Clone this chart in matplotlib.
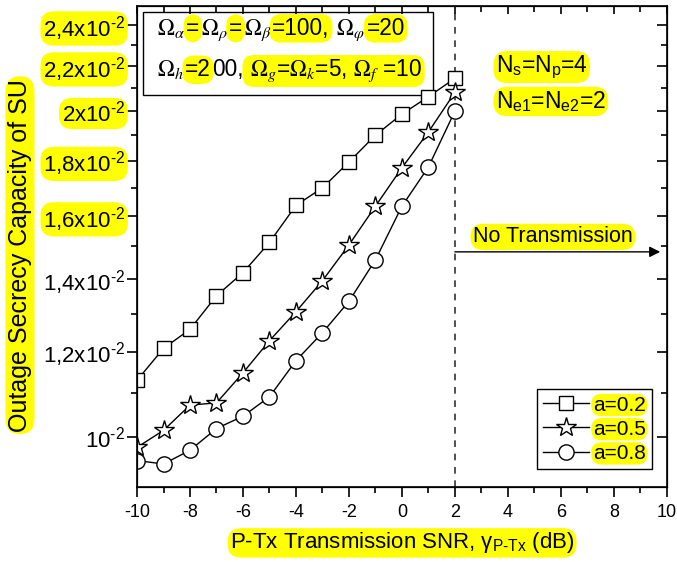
import matplotlib
matplotlib.use("Agg")
import matplotlib.pyplot as plt
from matplotlib.patches import Rectangle
from matplotlib.ticker import NullFormatter

plt.rcParams["font.family"] = ["Liberation Sans", "DejaVu Sans"]
plt.rcParams["mathtext.fontset"] = "custom"
plt.rcParams["mathtext.rm"] = "Liberation Sans"
plt.rcParams["mathtext.it"] = "Liberation Sans"
plt.rcParams["mathtext.bf"] = "Liberation Sans:bold"
plt.rcParams["axes.unicode_minus"] = False

YELLOW = "#ffff00"

# data
snr = [-10, -9, -8, -7, -6, -5, -4, -3, -2, -1, 0, 1, 2]
cap_a02 = [0.01129, 0.01208, 0.01258, 0.01351, 0.01419, 0.01513, 0.01637,
           0.01699, 0.01795, 0.01900, 0.01987, 0.02062, 0.02144]
cap_a05 = [0.00979, 0.01015, 0.01071, 0.01076, 0.01147, 0.01228, 0.01306,
           0.01395, 0.01505, 0.01634, 0.01773, 0.01913, 0.02081]
cap_a08 = [0.00952, 0.00945, 0.00973, 0.01019, 0.01046, 0.01090, 0.01177,
           0.01249, 0.01335, 0.01458, 0.01634, 0.01776, 0.02000]
series_labels = ["a=0.2", "a=0.5", "a=0.8"]

xticks_major = [-10, -8, -6, -4, -2, 0, 2, 4, 6, 8, 10]
xticks_minor = [-9, -7, -5, -3, -1, 1, 3, 5, 7, 9]
yticks_major = [0.010, 0.012, 0.014, 0.016, 0.018, 0.020, 0.022, 0.024]
ytick_labels = [r"10$^{\text{-2}}$", r"1,2x10$^{\text{-2}}$", r"1,4x10$^{\text{-2}}$",
                r"1,6x10$^{\text{-2}}$", r"1,8x10$^{\text{-2}}$", r"2x10$^{\text{-2}}$",
                r"2,2x10$^{\text{-2}}$", r"2,4x10$^{\text{-2}}$"]
yticks_minor = [0.011, 0.013, 0.015, 0.017, 0.019, 0.021, 0.023]
ytick_highlight_from = 0.016

limit_snr = 2
no_tx_level = 0.01483
no_tx_end = 9.75

fig = plt.figure(figsize=(6.77, 5.62), dpi=100)
ax = fig.add_axes([0.2024, 0.1335, 0.7826, 0.8558])


def hl_box(pad=0.12, rs=0.55):
    return dict(boxstyle="round,pad=%g,rounding_size=%g" % (pad, rs), fc=YELLOW, ec="none")


ax.plot(snr, cap_a02, color="black", lw=1, marker="s", ms=10, mfc="white",
        mec="black", mew=1, label=series_labels[0], zorder=4)
ax.plot(snr, cap_a05, color="black", lw=1, marker="*", ms=15, mfc="white",
        mec="black", mew=1, label=series_labels[1], zorder=4)
ax.plot(snr, cap_a08, color="black", lw=1, marker="o", ms=11, mfc="white",
        mec="black", mew=1, label=series_labels[2], zorder=4)

ax.set_yscale("log")
ax.set_xlim(-10, 10)
ax.set_ylim(0.009, 0.025)
ax.set_xticks(xticks_major, [str(v) for v in xticks_major])
ax.set_xticks(xticks_minor, minor=True)
ax.set_yticks(yticks_major, ytick_labels)
ax.set_yticks(yticks_minor, minor=True)
ax.yaxis.set_minor_formatter(NullFormatter())
ax.tick_params(which="major", direction="out", length=7, width=1.2)
ax.tick_params(which="minor", direction="out", length=4, width=1.2)
ax.tick_params(axis="x", labelsize=13, pad=5)
ax.tick_params(axis="y", labelsize=16, pad=1.5)
for sp in ax.spines.values():
    sp.set_linewidth(1.2)

# mirrored ticks on top / right, pointing in
axt = ax.twiny()
axt.set_xlim(ax.get_xlim())
axt.set_xticks(xticks_major)
axt.set_xticks(xticks_minor, minor=True)
axt.tick_params(which="both", direction="in", labeltop=False, width=1.2)
axt.tick_params(which="major", length=6)
axt.tick_params(which="minor", length=4)
axr = ax.twinx()
axr.set_yscale("log")
axr.set_ylim(ax.get_ylim())
axr.set_yticks(yticks_major)
axr.set_yticks(yticks_minor, minor=True)
axr.yaxis.set_major_formatter(NullFormatter())
axr.yaxis.set_minor_formatter(NullFormatter())
axr.tick_params(which="both", direction="in", labelright=False, width=1.2)
axr.tick_params(which="major", length=7)
axr.tick_params(which="minor", length=4)

for tick, v in zip(ax.yaxis.get_major_ticks(len(yticks_major)), yticks_major):
    if v >= ytick_highlight_from - 1e-9:
        tick.label1.set_bbox(hl_box(0.12, 0.6))

# boundary of transmission region
ax.axvline(limit_snr, color="#333333", lw=1.2, ls=(0, (4, 4)), zorder=2)
ax.annotate("", xy=(no_tx_end, no_tx_level), xytext=(limit_snr, no_tx_level),
            arrowprops=dict(arrowstyle="-|>", color="black", lw=1.0,
                            mutation_scale=16, shrinkA=0, shrinkB=0))
ax.text(0.785, 0.52, "No Transmission", transform=ax.transAxes, fontsize=15.5,
        ha="center", va="center", bbox=hl_box(0.12, 0.6), zorder=6)

ax.text(0.677, 0.863, r"$N_s$=$N_p$=4", transform=ax.transAxes, fontsize=16.5,
        ha="left", va="baseline", bbox=hl_box(0.1, 0.6), zorder=6)
ax.text(0.677, 0.788, r"$N_{e1}$=$N_{e2}$=2", transform=ax.transAxes, fontsize=16.5,
        ha="left", va="baseline", bbox=hl_box(0.1, 0.6), zorder=6)

# parameter box
ax.add_patch(Rectangle((0.0113, 0.815), 0.547, 0.1725, transform=ax.transAxes,
                       fc="white", ec="black", lw=1.0, zorder=3))


def chain_text(x, y, pieces, size):
    prev = None
    for s, hl in pieces:
        kw = dict(fontsize=size, math_fontfamily="stix", va="baseline", ha="left",
                  zorder=7 if not hl else 6)
        if hl:
            kw["bbox"] = hl_box(0.12, 0.5)
        if prev is None:
            prev = ax.text(x, y, s, transform=ax.transAxes, **kw)
        else:
            prev = ax.annotate(s, xy=(1, y), xycoords=(prev, "axes fraction"),
                               xytext=(1, 0), textcoords="offset points", **kw)


chain_text(0.0377, 0.94, [(r"$\Omega_\alpha$", False), ("=", True),
                          (r"$\Omega_\rho$", False), ("=", True),
                          (r"$\Omega_\beta$", False), ("=100,", True),
                          (r"$\ \Omega_\varphi$", False), ("=20", True)], 16.3)
chain_text(0.0377, 0.854, [(r"$\Omega_h$", False), ("=2", True), ("00,", False),
                           (r"$\ \Omega_g$=$\Omega_k$=5, $\Omega_f$ =10", True)], 16.3)

leg = ax.legend(loc="lower right", bbox_to_anchor=(0.972, 0.037), borderaxespad=0,
                fontsize=15, fancybox=False, framealpha=1, edgecolor="black",
                handlelength=2.2, handletextpad=0.2, labelspacing=0.25, borderpad=0.3)
leg.get_frame().set_linewidth(1.0)
leg.set_zorder(8)
for t in leg.get_texts():
    t.set_bbox(hl_box(0.08, 0.5))

fig.text(0.0295, 0.546, "Outage Secrecy Capacity of SU", rotation=90, fontsize=18,
         ha="center", va="center", bbox=hl_box(0.1, 0.6))
fig.text(0.594, 0.034, r"P-Tx Transmission SNR, $\gamma_{\text{P-Tx}}$ (dB)",
         fontsize=16, ha="center", va="center", bbox=hl_box(0.1, 0.6))

fig.savefig("out.png", dpi=100)
